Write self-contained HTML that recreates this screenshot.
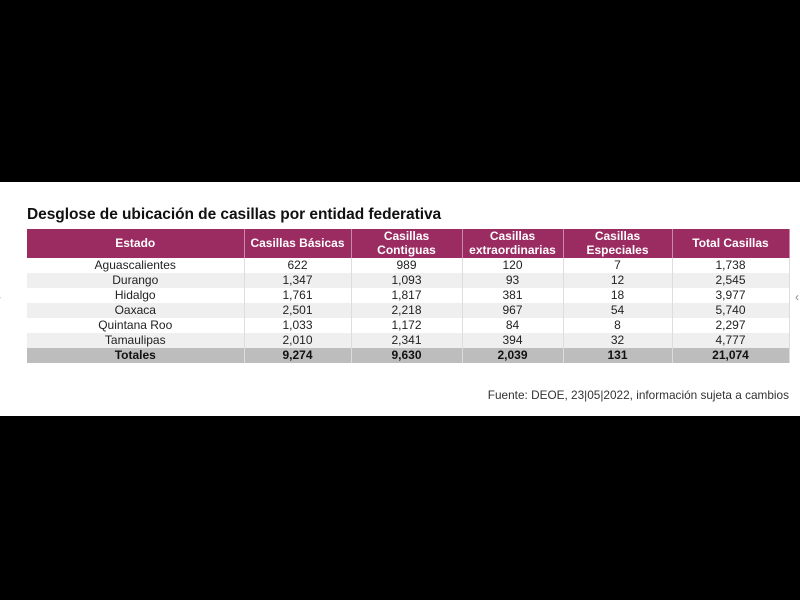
<!DOCTYPE html>
<html><head><meta charset="utf-8"><style>
body{margin:0;width:800px;height:600px;background:#000;position:relative;overflow:hidden;font-family:"Liberation Sans",sans-serif}
#w{position:absolute;left:0;top:182px;width:800px;height:234px;background:#fff}
h1{position:absolute;left:27px;top:206px;margin:0;font-size:15.5px;font-weight:bold;color:#111;letter-spacing:-0.05px;white-space:nowrap}
table{position:absolute;left:27px;top:229px;border-collapse:collapse;table-layout:fixed;width:762px;font-size:12px;color:#222}
td,th{text-align:center;padding:0;border-right:1px solid #ddd;white-space:nowrap;overflow:hidden}
th{background:#9b2c62;color:#fff;height:29px;font-weight:bold;line-height:13.5px;border-right:1px solid #c98aa8}
td{height:15px;line-height:15px}
tr.g td{background:#efefef}
tr.t td{background:#bdbdbd;font-weight:bold;color:#111}
#src{position:absolute;right:11px;top:388px;font-size:11.8px;color:#333}
.a{position:absolute;top:290px;color:#888;font-size:12px}
</style></head><body>
<div id="w"></div>
<h1>Desglose de ubicación de casillas por entidad federativa</h1>
<table>
<colgroup><col style="width:217px"><col style="width:107px"><col style="width:111px"><col style="width:101px"><col style="width:109px"><col style="width:117px"></colgroup>
<tr><th>Estado</th><th>Casillas Básicas</th><th>Casillas<br>Contiguas</th><th>Casillas<br>extraordinarias</th><th>Casillas<br>Especiales</th><th>Total Casillas</th></tr>
<tr><td>Aguascalientes</td><td>622</td><td>989</td><td>120</td><td>7</td><td>1,738</td></tr>
<tr class="g"><td>Durango</td><td>1,347</td><td>1,093</td><td>93</td><td>12</td><td>2,545</td></tr>
<tr><td>Hidalgo</td><td>1,761</td><td>1,817</td><td>381</td><td>18</td><td>3,977</td></tr>
<tr class="g"><td>Oaxaca</td><td>2,501</td><td>2,218</td><td>967</td><td>54</td><td>5,740</td></tr>
<tr><td>Quintana Roo</td><td>1,033</td><td>1,172</td><td>84</td><td>8</td><td>2,297</td></tr>
<tr class="g"><td>Tamaulipas</td><td>2,010</td><td>2,341</td><td>394</td><td>32</td><td>4,777</td></tr>
<tr class="t"><td>Totales</td><td>9,274</td><td>9,630</td><td>2,039</td><td>131</td><td>21,074</td></tr>
</table>
<div id="src">Fuente: DEOE, 23|05|2022, información sujeta a cambios</div>
<div class="a" style="left:-3px">›</div><div class="a" style="left:795px">‹</div>
</body></html>
